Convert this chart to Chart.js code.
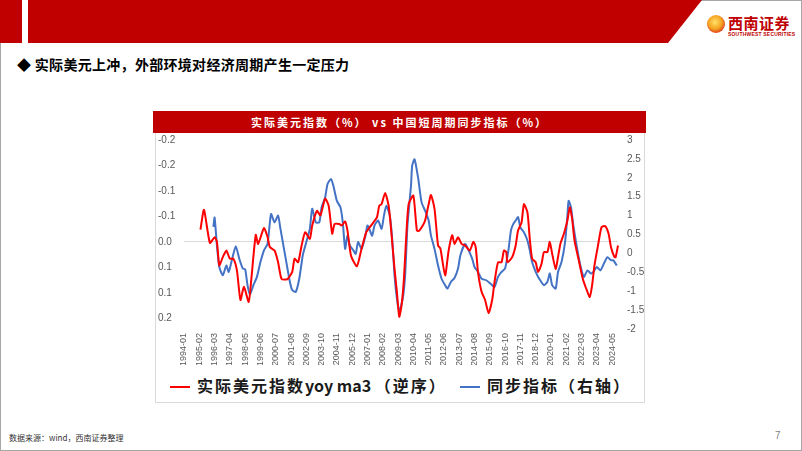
<!DOCTYPE html>
<html>
<head>
<meta charset="utf-8">
<script src="https://cdn.jsdelivr.net/npm/chart.js@4.4.1/dist/chart.umd.min.js"></script>
<style>
  html, body { margin: 0; padding: 0; background: #fff; }
  body { width: 802px; height: 451px; position: relative; overflow: hidden; font-family: "Noto Sans CJK SC", "Noto Sans", sans-serif; }
  .frame { position: absolute; left: 0; top: 0; width: 802px; height: 451px; box-sizing: border-box; border: 1px solid #a6a6a6; }
  .top-bar { position: absolute; left: 0; top: 0; width: 702px; height: 43px; background: #C00000;
    clip-path: polygon(0 0, 100% 0, calc(100% - 34px) 100%, 0 100%); }
  .top-gap { position: absolute; left: 22px; top: 0; width: 6px; height: 43px; background: #fff; }
  .logo-circle { position: absolute; left: 707px; top: 15px; width: 18px; height: 18px; border-radius: 50%;
    background: radial-gradient(circle at 45% 40%, #ffe066 0%, #f5a623 45%, #e0401c 75%, #c00000 100%); }
  .logo-text { position: absolute; left: 728px; top: 12px; font-size: 15px; font-weight: bold; color: #C00000; letter-spacing: 0.5px; }
  .logo-sub { position: absolute; left: 728px; top: 31px; font-size: 5px; font-weight: bold; color: #C00000; font-family: "Liberation Sans", sans-serif; letter-spacing: 0.2px; }
  .headline { position: absolute; left: 17px; top: 54px; font-size: 14px; font-weight: bold; color: #000; letter-spacing: 0.3px; white-space: nowrap; }
  .chart-title { position: absolute; left: 153px; top: 111px; width: 493px; height: 22px; line-height: 22px; background: #C00000;
    color: #fff; font-size: 11px; font-weight: bold; text-align: center; letter-spacing: 2px; white-space: pre; }
  .chart-box { position: absolute; left: 155px; top: 133px; width: 490px; height: 270px; box-sizing: border-box;
    border: 1px solid #d9d9d9; border-top: none; }
  .chart-wrapper { position: absolute; left: 153px; top: 125px; width: 493px; height: 248px; }
  .chart-legend-item { position: absolute; top: 374px; height: 22px; line-height: 22px; font-size: 16px; font-weight: bold; color: #1a1a1a; white-space: nowrap; }
  .chart-legend-line { display: inline-block; width: 20px; height: 2px; vertical-align: middle; margin-right: 7px; position: relative; top: -1px; }
  .cjk { letter-spacing: 2px; }
  .footer { position: absolute; left: 9px; top: 432px; font-size: 8px; color: #333; white-space: nowrap; }
  .page-no { position: absolute; left: 775px; top: 430px; font-size: 10px; color: #7f7f7f; font-family: "Liberation Sans", sans-serif; }
</style>
</head>
<body>
<div class="frame"></div>
<div class="top-bar"></div>
<div class="top-gap"></div>
<div class="logo-circle"></div>
<div class="logo-text">西南证券</div>
<div class="logo-sub">SOUTHWEST SECURITIES</div>
<div class="headline">◆ 实际美元上冲，外部环境对经济周期产生一定压力</div>
<div class="chart-title">实际美元指数（%） vs 中国短周期同步指标（%）</div>
<div class="chart-box"></div>
<div class="chart-wrapper"><canvas id="dollar-chart"></canvas></div>
<div id="chart-legend"></div>
<div class="footer">数据来源：wind，西南证券整理</div>
<div class="page-no">7</div>

<script>
// ========================================
// DATA
// ========================================

// x axis labels shown (every 13 months)
const xTickLabels = ['1994-01', '1995-02', '1996-03', '1997-04', '1998-05', '1999-06', '2000-07', '2001-08',
  '2002-09', '2003-10', '2004-11', '2005-12', '2007-01', '2008-02', '2009-03', '2010-04', '2011-05', '2012-06',
  '2013-07', '2014-08', '2015-09', '2016-10', '2017-11', '2018-12', '2020-01', '2021-02', '2022-03', '2023-04', '2024-05'];

// left axis (reversed): tick values and the labels printed on the source chart
const leftTickValues = [-0.2, -0.15, -0.1, -0.05, 0, 0.05, 0.1, 0.15];
const leftTickLabels = ['-0.2', '-0.2', '-0.1', '-0.1', '0.0', '0.1', '0.1', '0.2'];

// right axis
const rightTickValues = [3, 2.5, 2, 1.5, 1, 0.5, 0, -0.5, -1, -1.5, -2];
const rightTickLabels = ['3', '2.5', '2', '1.5', '1', '0.5', '0', '-0.5', '-1', '-1.5', '-2'];

// 实际美元指数yoy ma3 (left axis, reversed)
const redDates = ['1995-03', '1995-06', '1995-11', '1996-03', '1996-05', '1996-07', '1996-10', '1997-01', '1997-04',
  '1997-07', '1997-10', '1998-01', '1998-04', '1998-08', '1998-10', '1999-02', '1999-04', '1999-09', '1999-12',
  '2000-02', '2000-06', '2000-09', '2000-12', '2001-05', '2001-09', '2001-11', '2002-02', '2002-05', '2002-08',
  '2002-12', '2003-02', '2003-06', '2003-09', '2004-01', '2004-04', '2004-07', '2004-09', '2005-01', '2005-03',
  '2005-06', '2005-08', '2005-11', '2006-04', '2006-08', '2006-12', '2007-04', '2007-09', '2007-11', '2008-01',
  '2008-04', '2008-07', '2008-09', '2008-12', '2009-02', '2009-04', '2009-06', '2009-08', '2009-10', '2009-12',
  '2010-04', '2010-07', '2010-09', '2010-12', '2011-02', '2011-05', '2011-07', '2011-10', '2012-01', '2012-03',
  '2012-07', '2012-10', '2013-01', '2013-03', '2013-06', '2013-09', '2013-12', '2014-04', '2014-07', '2014-09',
  '2014-11', '2015-02', '2015-05', '2015-08', '2015-11', '2016-01', '2016-04', '2016-07', '2016-09', '2016-11',
  '2016-12', '2017-04', '2017-07', '2017-09', '2017-12', '2018-02', '2018-05', '2018-07', '2018-09', '2018-12',
  '2019-02', '2019-05', '2019-07', '2019-10', '2019-12', '2020-02', '2020-05', '2020-07', '2020-09', '2020-12',
  '2021-03', '2021-05', '2021-07', '2021-09', '2022-01', '2022-04', '2022-07', '2022-10', '2022-12', '2023-02',
  '2023-05', '2023-08', '2023-11', '2024-02', '2024-04', '2024-07', '2024-08', '2024-10'];
const redValues = [-0.024, -0.063, 0.002, -0.009, 0.000, 0.046, 0.030, 0.017, 0.033,
  0.033, 0.056, 0.114, 0.088, 0.118, 0.079, -0.014, 0.004, -0.027, -0.010,
  0.010, 0.017, 0.040, 0.073, 0.073, 0.059, 0.033, 0.040, 0.007, -0.019,
  -0.006, -0.032, -0.061, -0.052, -0.085, -0.071, -0.016, -0.035, -0.035, -0.032,
  -0.040, -0.022, 0.027, 0.048, 0.013, -0.019, -0.032, -0.048, -0.071, -0.074,
  -0.096, -0.071, -0.026, 0.053, 0.098, 0.147, 0.124, 0.072, -0.013, -0.074,
  -0.091, -0.022, -0.022, -0.032, -0.042, -0.074, -0.092, -0.065, 0.007, 0.013,
  0.066, 0.017, -0.013, 0.004, -0.009, 0.004, 0.007, 0.017, 0.000, 0.010,
  0.060, 0.098, 0.114, 0.140, 0.114, 0.079, 0.040, 0.040, 0.017, 0.020,
  0.040, 0.030, 0.007, -0.022, -0.038, -0.074, -0.058, -0.006, 0.033, 0.040,
  0.059, 0.043, 0.020, 0.020, 0.000, 0.023, 0.053, 0.030, 0.004, -0.016,
  -0.042, -0.068, -0.045, -0.003, 0.040, 0.072, 0.092, 0.108, 0.085, 0.046,
  0.007, -0.029, -0.031, -0.016, 0.010, 0.030, 0.030, 0.007];

// 同步指标 (right axis)
const blueDates = ['1996-02', '1996-03', '1996-05', '1996-07', '1996-10', '1997-01', '1997-03', '1997-06', '1997-09',
  '1997-12', '1998-03', '1998-05', '1998-07', '1998-09', '1998-12', '1999-03', '1999-06', '1999-09', '1999-12',
  '2000-03', '2000-06', '2000-09', '2000-11', '2001-01', '2001-04', '2001-07', '2001-09', '2001-12', '2002-03',
  '2002-06', '2002-09', '2002-12', '2003-02', '2003-05', '2003-08', '2003-10', '2004-01', '2004-03', '2004-06',
  '2004-08', '2004-11', '2005-02', '2005-04', '2005-06', '2005-08', '2005-10', '2006-01', '2006-03', '2006-05',
  '2006-08', '2006-11', '2007-01', '2007-03', '2007-05', '2007-07', '2007-10', '2008-01', '2008-03', '2008-05',
  '2008-08', '2008-10', '2008-12', '2009-02', '2009-04', '2009-07', '2009-09', '2009-11', '2010-02', '2010-03',
  '2010-05', '2010-08', '2010-11', '2011-02', '2011-05', '2011-07', '2011-10', '2012-01', '2012-04', '2012-07',
  '2012-09', '2012-12', '2013-03', '2013-06', '2013-08', '2013-12', '2014-03', '2014-06', '2014-08', '2014-11',
  '2015-02', '2015-06', '2015-11', '2016-01', '2016-04', '2016-07', '2016-10', '2017-01', '2017-03', '2017-05',
  '2017-07', '2017-09', '2017-11', '2018-02', '2018-05', '2018-07', '2018-09', '2018-12', '2019-03', '2019-07',
  '2019-10', '2019-12', '2020-02', '2020-05', '2020-07', '2020-10', '2021-01', '2021-03', '2021-04', '2021-06',
  '2021-08', '2021-11', '2022-02', '2022-05', '2022-08', '2022-11', '2023-01', '2023-04', '2023-07', '2023-10',
  '2024-01', '2024-04', '2024-06', '2024-09'];
const blueValues = [0.70, 0.95, 0.21, -0.36, -0.58, -0.32, -0.49, -0.14, 0.19,
  -0.14, -0.40, -0.42, -0.84, -1.10, -0.84, -0.62, -0.23, 0.08, 0.25,
  1.04, 0.82, 1.00, 0.65, 0.30, -0.23, -0.75, -0.97, -1.02, -0.67,
  -0.05, 0.30, 0.65, 1.18, 0.82, 0.82, 1.22, 1.48, 1.83, 1.97,
  1.79, 1.39, 1.22, 0.82, 0.12, 0.47, 0.21, 0.08, -0.01, 0.30,
  0.12, 0.43, 0.74, 0.61, 0.47, 0.74, 0.87, 0.65, 1.00, 1.26,
  1.00, 0.39, -0.58, -1.19, -1.54, -1.19, -0.58, 0.74, 1.79, 2.32,
  2.49, 2.01, 1.35, 1.13, 0.87, 0.47, 0.12, -0.32, -0.67, -0.84,
  -0.93, -0.75, -0.65, -0.40, -0.05, 0.25, 0.08, -0.14, -0.36, -0.49,
  -0.67, -0.71, -0.84, -0.89, -0.62, -0.49, -0.40, 0.12, 0.61, 0.78,
  0.87, 0.96, 0.69, 0.56, 0.34, 0.08, -0.23, -0.49, -0.67, -0.84,
  -0.75, -0.53, -0.84, -0.93, -0.49, -0.23, 0.30, 1.00, 1.39, 1.22,
  0.74, 0.17, -0.32, -0.62, -0.45, -0.53, -0.49, -0.36, -0.45, -0.27,
  -0.10, -0.18, -0.18, -0.32];

// monthly category axis 1994-01 .. 2024-10
const months = [];
for (let y = 1994; y <= 2024; y++) {
  for (let m = 1; m <= 12; m++) {
    if (y === 2024 && m > 10) break;
    months.push(y + '-' + (m < 10 ? '0' + m : m));
  }
}

const RED = '#FF0000';
const BLUE = '#4472C4';
const AXIS_TEXT = '#595959';

// ========================================
// CHART
// ========================================

// label lookup by tick value
function tickLabelFor(values, labels, value) {
  for (let i = 0; i < values.length; i++) {
    if (Math.abs(values[i] - value) < 1e-6) return labels[i];
  }
  return '';
}

function renderDollarChart() {
  const canvas = document.getElementById('dollar-chart');
  const ctx = canvas.getContext('2d');

  const toPoints = function(dates, values) {
    return dates.map(function(d, i) { return { x: d, y: values[i] }; });
  };

  new Chart(ctx, {
    type: 'line',
    data: {
      labels: months,
      datasets: [
        {
          label: '实际美元指数yoy ma3 （逆序）',
          data: toPoints(redDates, redValues),
          yAxisID: 'yLeft',
          borderColor: RED,
          borderWidth: 2,
          pointRadius: 0,
          tension: 0.2,
          fill: false
        },
        {
          label: '同步指标（右轴）',
          data: toPoints(blueDates, blueValues),
          yAxisID: 'yRight',
          borderColor: BLUE,
          borderWidth: 2,
          pointRadius: 0,
          tension: 0.2,
          fill: false
        }
      ]
    },
    options: {
      responsive: true,
      maintainAspectRatio: false,
      animation: false,
      devicePixelRatio: 1,
      layout: { padding: { left: 5, right: 0, top: 6, bottom: 8 } },
      plugins: {
        legend: { display: false },
        tooltip: { enabled: false }
      },
      scales: {
        x: {
          type: 'category',
          offset: false,
          grid: { display: false, drawTicks: false },
          border: { display: false },
          afterFit: function(scale) { scale.height = 36; },
          ticks: {
            autoSkip: false,
            maxRotation: 90,
            minRotation: 90,
            padding: 4,
            color: AXIS_TEXT,
            font: { family: 'Liberation Sans', size: 9 },
            callback: function(value, index) {
              const lab = months[index];
              return xTickLabels.indexOf(lab) >= 0 ? lab : null;
            }
          }
        },
        yLeft: {
          position: 'left',
          reverse: true,
          min: -0.2,
          max: 0.171,
          border: { display: false },
          afterFit: function(scale) { scale.width = 26; },
          grid: {
            drawTicks: false,
            color: function(c) {
              return c.tick && Math.abs(c.tick.value) < 1e-9 ? '#d9d9d9' : 'rgba(0,0,0,0)';
            }
          },
          ticks: {
            stepSize: 0.05,
            includeBounds: false,
            crossAlign: 'far',
            color: AXIS_TEXT,
            font: { family: 'Liberation Sans', size: 10 },
            callback: function(value) {
              return tickLabelFor(leftTickValues, leftTickLabels, value);
            }
          }
        },
        yRight: {
          position: 'right',
          min: -2,
          max: 3,
          border: { display: false },
          afterFit: function(scale) { scale.width = 28; },
          grid: { display: false, drawTicks: false },
          ticks: {
            stepSize: 0.5,
            padding: 9,
            color: AXIS_TEXT,
            font: { family: 'Liberation Sans', size: 10 },
            callback: function(value) {
              return tickLabelFor(rightTickValues, rightTickLabels, value);
            }
          }
        }
      }
    }
  });

  updateChartLegend();
}

// HTML legend below the plot
function updateChartLegend() {
  const legendEl = document.getElementById('chart-legend');
  if (!legendEl) return;

  legendEl.innerHTML =
    '<div class="chart-legend-item" style="left:170px">' +
      '<span class="chart-legend-line" style="background:' + RED + '"></span>' +
      '<span class="cjk">实际美元指数</span>yoy ma3 <span class="cjk">（逆序）</span>' +
    '</div>' +
    '<div class="chart-legend-item" style="left:460px">' +
      '<span class="chart-legend-line" style="background:' + BLUE + '"></span>' +
      '<span class="cjk">同步指标（右轴）</span>' +
    '</div>';
}

renderDollarChart();
</script>
</body>
</html>
